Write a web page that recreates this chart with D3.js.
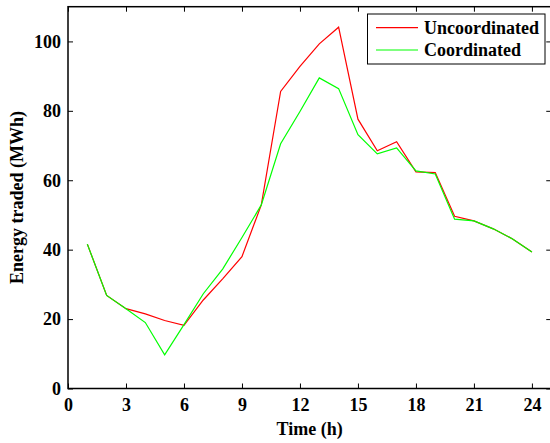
<!DOCTYPE html>
<html><head><meta charset="utf-8">
<script src="https://cdn.jsdelivr.net/npm/d3@7"></script>
<style>
html,body{margin:0;padding:0;background:#fff;}
svg{display:block;}
text{font-family:"Liberation Serif","Times New Roman",serif;font-weight:bold;fill:#000;}
</style></head>
<body>
<svg id="chart" width="550" height="443"></svg>
<script>
const hours = [1,2,3,4,5,6,7,8,9,10,11,12,13,14,15,16,17,18,19,20,21,22,23,24];
const uncoordinated = [41.6,26.8,23.0,21.5,19.6,18.2,25.5,31.6,38.0,52.9,85.6,92.8,99.3,104.1,77.6,68.5,71.1,62.4,62.2,49.6,48.3,46.0,43.1,39.3];
const coordinated   = [41.6,26.8,23.0,19.0,9.7,18.4,27.3,34.4,43.5,52.9,70.5,79.8,89.5,86.4,73.1,67.6,69.3,62.7,61.8,48.8,48.3,46.0,43.1,39.3];
const xTicks = [0,3,6,9,12,15,18,21,24];
const yTicks = [0,20,40,60,80,100];
const seriesNames = ["Uncoordinated","Coordinated"];
const seriesColors = ["#ff0000","#00ff00"];

const svg = d3.select("#chart");
const L = 68, T = 6.7, B = 388.5;
const x = d3.scaleLinear().domain([0,25]).range([L, L + 25*19.33]);
const y = d3.scaleLinear().domain([0,110]).range([B, T]);
const R = x(25);

const fs = 18;
svg.append("rect").attr("x",L).attr("y",T).attr("width",R-L).attr("height",B-T)
  .attr("fill","none").attr("stroke","#000").attr("stroke-width",1.5);

const xb = svg.append("g").attr("transform",`translate(0,${B})`)
  .call(d3.axisBottom(x).tickValues(xTicks).tickSize(-5).tickPadding(10).tickFormat(d3.format("d")));
const xt = svg.append("g").attr("transform",`translate(0,${T})`)
  .call(d3.axisTop(x).tickValues(xTicks).tickSize(-5).tickFormat(""));
const yl = svg.append("g").attr("transform",`translate(${L},0)`)
  .call(d3.axisLeft(y).tickValues(yTicks).tickSize(-5).tickPadding(7).tickFormat(d3.format("d")));
const yr = svg.append("g").attr("transform",`translate(${R},0)`)
  .call(d3.axisRight(y).tickValues(yTicks).tickSize(-5).tickFormat(""));
[xb,xt,yl,yr].forEach(g=>{
  g.select(".domain").remove();
  g.selectAll(".tick line").attr("stroke","#000").attr("stroke-width",1);
  g.selectAll("text").attr("font-size",fs).attr("font-family","Liberation Serif").attr("font-weight","bold").attr("fill","#000");
});

const line = d3.line().x((d,i)=>x(hours[i])).y(d=>y(d));
[uncoordinated, coordinated].forEach((s,k)=>{
  svg.append("path").datum(s).attr("d",line).attr("fill","none")
    .attr("stroke",seriesColors[k]).attr("stroke-width",1.2);
});

svg.append("text").attr("x",(L+R)/2).attr("y",435).attr("text-anchor","middle")
  .attr("font-size",fs).text("Time (h)");
svg.append("text").attr("transform",`translate(23,${(T+B)/2}) rotate(-90)`).attr("text-anchor","middle")
  .attr("font-size",fs).text("Energy traded (MWh)");

const lg = svg.append("g");
lg.append("rect").attr("x",367.5).attr("y",14).attr("width",177.5).attr("height",50)
  .attr("fill","#fff").attr("stroke","#000").attr("stroke-width",1);
seriesNames.forEach((n,k)=>{
  const yy = 27.7 + k*22.3;
  lg.append("line").attr("x1",376).attr("x2",418).attr("y1",yy).attr("y2",yy)
    .attr("stroke",seriesColors[k]).attr("stroke-width",1.2);
  lg.append("text").attr("x",424).attr("y",yy+6).attr("font-size",fs).text(n);
});
</script>
</body></html>
